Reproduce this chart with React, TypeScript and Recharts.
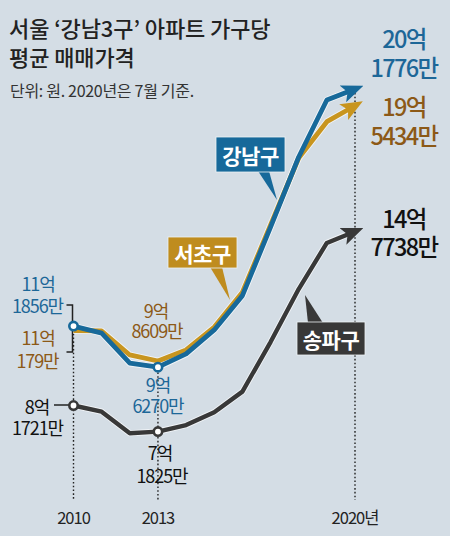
import { LineChart, Line, XAxis, YAxis, ReferenceLine } from 'recharts'

// average apartment price per household, in 억 won (2020 = July)
const years = [2010, 2011, 2012, 2013, 2014, 2015, 2016, 2017, 2018, 2019, 2020]
const gangnam = [11.1856, 10.92, 9.78, 9.627, 10.13, 11.04, 12.34, 14.94, 17.6, 19.76, 20.1776]
const seocho = [11.0179, 11.0, 10.09, 9.8609, 10.28, 11.15, 12.47, 15.02, 17.56, 18.94, 19.5434]
const songpa = [8.1721, 7.94, 7.12, 7.1825, 7.43, 7.92, 8.7, 10.58, 12.59, 14.34, 14.7738]

const yearTicks = [2010, 2013, 2020]
const markedYears = [2010, 2013]

const data = years.map((year, i) => ({
  year,
  gangnam: gangnam[i],
  seocho: seocho[i],
  songpa: songpa[i],
}))

const BLUE = '#17699a'
const GOLD = '#c8951f'
const DARK = '#383838'
const BLUE_TEXT = '#1d6798'
const BROWN_TEXT = '#8c5917'
const BG = '#d4dde5'
const FONT = '"Noto Sans CJK KR", "Noto Sans", sans-serif'
const GUIDE_BOTTOM = 4.59

const ringDot = (color: string) => (props: any) => {
  const { cx, cy, index } = props
  if (!markedYears.includes(years[index])) return <g key={`d-${index}`} />
  return (
    <circle key={`d-${index}`} cx={cx} cy={cy} r={4.2} fill="#fff" stroke={color} strokeWidth={2.6} />
  )
}

const YearTick = (props: any) => {
  const { x, payload } = props
  return (
    <text x={x} y={516.5} textAnchor="middle" dominantBaseline="central" fontSize={16.5}
      letterSpacing={-1} fill="#222" fontFamily={FONT}>
      {payload.value === 2020 ? '2020년' : payload.value}
    </text>
  )
}

function Arrow({ id, color }: { id: string; color: string }) {
  return (
    <marker id={id} viewBox="0 0 22 20" markerWidth={22} markerHeight={20} refX={13} refY={10}
      orient="auto" markerUnits="userSpaceOnUse">
      <path d="M0,1 L22,10 L0,19 L5,10 Z" fill={color} />
    </marker>
  )
}

function Label({ x, y, text, color, big = false }: { x: number; y: number; text: string; color: string; big?: boolean }) {
  return (
    <text x={x} y={y} textAnchor="middle" dominantBaseline="central" fontSize={big ? 23.5 : 18}
      fontWeight={big ? 500 : 400} letterSpacing={big ? -1.6 : -1.1} fill={color}>
      {text}
    </text>
  )
}

function Callout({ box, tip, text, color }: {
  box: [number, number, number, number]
  tip: [number, number, number, number, number, number]
  text: string
  color: string
}) {
  const [x, y, w, h] = box
  return (
    <g>
      <polygon points={`${tip[0]},${tip[1]} ${tip[2]},${tip[3]} ${tip[4]},${tip[5]}`} fill={color} />
      <rect x={x} y={y} width={w} height={h} fill={color} stroke="#eef2f5" strokeWidth={0.8} />
      <text x={x + w / 2} y={y + h / 2} textAnchor="middle" dominantBaseline="central"
        fontSize={21} fontWeight={700} letterSpacing={-0.5} fill="#fff">
        {text}
      </text>
    </g>
  )
}

export default function App() {
  const layer = { position: 'absolute' as const, left: 0, top: 0 }
  return (
    <div style={{ position: 'absolute', left: 0, top: 0, width: 450, height: 536, background: BG, fontFamily: FONT }}>
      {/* bracket and tick marks that sit behind the lines */}
      <svg width={450} height={536} style={layer}>
        <path d="M66.5,305 H72.5 V352 H66.5" fill="none" stroke="#222" strokeWidth={1.5} />
        <line x1={54} y1={405} x2={70} y2={405} stroke="#222" strokeWidth={1.5} />
      </svg>

      <div style={layer}>
        <LineChart width={450} height={536} data={data}
          margin={{ top: 41, right: 95, bottom: 0, left: 73.5 }}>
          <defs>
            <Arrow id="arrow-blue" color={BLUE} />
            <Arrow id="arrow-gold" color={GOLD} />
            <Arrow id="arrow-dark" color={DARK} />
          </defs>
          <XAxis dataKey="year" type="number" domain={[2010, 2020]} ticks={yearTicks}
            axisLine={false} tickLine={false} height={20.5} tick={<YearTick />} interval={0} />
          <YAxis hide type="number" domain={[4, 22]} allowDataOverflow />
          {yearTicks.map((yr) => {
            const i = years.indexOf(yr)
            const top = Math.max(gangnam[i], seocho[i], songpa[i])
            return (
              <ReferenceLine key={yr} segment={[{ x: yr, y: top }, { x: yr, y: GUIDE_BOTTOM }]}
                stroke="#222" strokeWidth={1.4} strokeDasharray="1.6 2.2" ifOverflow="visible" />
            )
          })}
          {/* pale outlines under the series */}
          <Line dataKey="seocho" stroke="#f1f4f7" strokeWidth={6.6} dot={false} isAnimationActive={false} strokeLinejoin="round" />
          <Line dataKey="gangnam" stroke="#f1f4f7" strokeWidth={6.6} dot={false} isAnimationActive={false} strokeLinejoin="round" />
          <Line dataKey="songpa" stroke="#f1f4f7" strokeWidth={6.2} dot={false} isAnimationActive={false} strokeLinejoin="round" />

          <Line dataKey="seocho" stroke={GOLD} strokeWidth={4.8} dot={false} isAnimationActive={false}
            strokeLinejoin="round" markerEnd="url(#arrow-gold)" />
          <Line dataKey="gangnam" stroke={BLUE} strokeWidth={4.8} dot={ringDot(BLUE)} isAnimationActive={false}
            strokeLinejoin="round" markerEnd="url(#arrow-blue)" />
          <Line dataKey="songpa" stroke={DARK} strokeWidth={4.4} dot={ringDot(DARK)} isAnimationActive={false}
            strokeLinejoin="round" markerEnd="url(#arrow-dark)" />
        </LineChart>
      </div>

      <svg width={450} height={536} style={{ ...layer, pointerEvents: 'none' }} fontFamily={FONT}>
        <text x={9} y={27} dominantBaseline="central" fontSize={22} fontWeight={500} letterSpacing={-0.1} fill="#222">
          서울 ‘강남3구’ 아파트 가구당
        </text>
        <text x={9} y={56} dominantBaseline="central" fontSize={22} fontWeight={500} letterSpacing={-0.1} fill="#222">
          평균 매매가격
        </text>
        <text x={10} y={90} dominantBaseline="central" fontSize={16} letterSpacing={-0.3} fill="#333">
          단위: 원. 2020년은 7월 기준.
        </text>

        <Label x={404} y={38} text="20억" color={BLUE_TEXT} big />
        <Label x={404} y={67} text="1776만" color={BLUE_TEXT} big />
        <Label x={404} y={106} text="19억" color={BROWN_TEXT} big />
        <Label x={404} y={135} text="5434만" color={BROWN_TEXT} big />
        <Label x={404} y={218} text="14억" color="#111" big />
        <Label x={404} y={246} text="7738만" color="#111" big />

        <Label x={38} y={283} text="11억" color={BLUE_TEXT} />
        <Label x={37.5} y={305} text="1856만" color={BLUE_TEXT} />
        <Label x={38} y={337} text="11억" color={BROWN_TEXT} />
        <Label x={37.5} y={360} text="179만" color={BROWN_TEXT} />
        <Label x={156} y={310} text="9억" color={BROWN_TEXT} />
        <Label x={157} y={330} text="8609만" color={BROWN_TEXT} />
        <Label x={158} y={384} text="9억" color={BLUE_TEXT} />
        <Label x={158} y={405} text="6270만" color={BLUE_TEXT} />
        <Label x={37} y={406} text="8억" color="#111" />
        <Label x={37.5} y={427} text="1721만" color="#111" />
        <Label x={160} y={452} text="7억" color="#111" />
        <Label x={162} y={475} text="1825만" color="#111" />

        <Callout box={[216, 137, 69, 35]} tip={[258, 171, 269, 171, 277, 200]} text="강남구" color={BLUE} />
        <Callout box={[168, 237, 69, 31]} tip={[210, 267, 222, 267, 230, 300]} text="서초구" color="#bf8c1e" />
        <Callout box={[297, 322, 68, 33]} tip={[308, 323, 323, 323, 305, 295]} text="송파구" color={DARK} />
      </svg>
    </div>
  )
}
